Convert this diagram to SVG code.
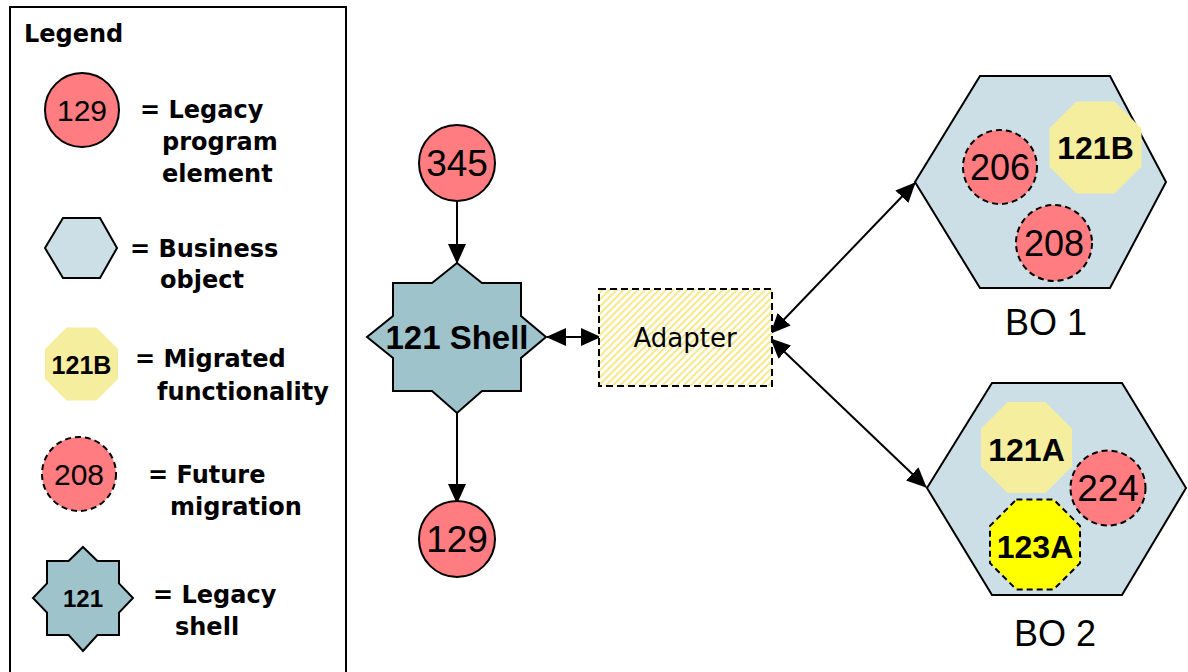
<svg xmlns="http://www.w3.org/2000/svg" width="1188" height="672" viewBox="0 0 1188 672">
<style>
.circ{fill:#ff7c80;stroke:#000;stroke-width:2}
.dash{stroke-dasharray:6 4}
.hex{fill:#cddfe6;stroke:#000;stroke-width:2}
.star{fill:#9fc3cb;stroke:#000;stroke-width:2}
.oct{fill:#f6ee9f}
.num{font-family:"Liberation Sans",Arial,sans-serif;text-anchor:middle;fill:#000}
.bnum{font-family:"Liberation Sans",Arial,sans-serif;font-weight:bold;text-anchor:middle;fill:#000}
.leg{font-family:"DejaVu Sans",Verdana,sans-serif;font-weight:bold;font-size:24px;fill:#000}
.conn{stroke:#000;stroke-width:2;fill:none}
</style>
<defs>
<marker id="ah" viewBox="0 0 20 18" refX="19" refY="9" markerWidth="20" markerHeight="18" orient="auto-start-reverse" markerUnits="userSpaceOnUse">
<path d="M0,0 L20,9 L0,18 z" fill="#000"/>
</marker>
<pattern id="hatch" patternUnits="userSpaceOnUse" width="5" height="5" patternTransform="rotate(45)">
<rect width="5" height="5" fill="#fff"/>
<rect width="2" height="5" fill="#f7e88a"/>
</pattern>
</defs>
<rect width="1188" height="672" fill="#fff"/>

<g id="legend">
<rect x="10" y="7" width="336" height="680" fill="none" stroke="#000" stroke-width="2"/>
<text x="24" y="42" class="leg" font-size="25">Legend</text>
<g id="leg-legacy">
<circle cx="82" cy="110" r="37" class="circ"/>
<text x="82" y="121" class="num" font-size="30">129</text>
<text x="140" y="118" class="leg">= Legacy</text>
<text x="162" y="150" class="leg">program</text>
<text x="162" y="182" class="leg">element</text>
</g>
<g id="leg-bo">
<polygon points="45,248 63,218 100,218 117,248 100,278 63,278" class="hex"/>
<text x="130" y="257" class="leg">= Business</text>
<text x="160" y="288" class="leg">object</text>
</g>
<g id="leg-migrated">
<polygon points="66.5,327.5 96.5,327.5 118,349 118,379 96.5,400.5 66.5,400.5 45,379 45,349" class="oct"/>
<text x="81.5" y="374" class="bnum" font-size="25">121B</text>
<text x="135" y="367" class="leg">= Migrated</text>
<text x="157" y="400" class="leg">functionality</text>
</g>
<g id="leg-future">
<circle cx="79" cy="474" r="37" class="circ dash"/>
<text x="79" y="485" class="num" font-size="30">208</text>
<text x="148" y="483" class="leg">= Future</text>
<text x="170" y="515" class="leg">migration</text>
</g>
<g id="leg-shell">
<polygon points="83,547 97.4,561 119,561 119,583.4 133,598 119,612.6 119,635 97.4,635 83,651 68.6,635 47,635 47,612.6 33,598 47,583.4 47,561 68.6,561" class="star"/>
<text x="83" y="607" class="bnum" font-size="24">121</text>
<text x="153" y="603" class="leg">= Legacy</text>
<text x="175" y="635" class="leg">shell</text>
</g>
</g>

<g id="connectors">
<line x1="457" y1="201" x2="457" y2="263" class="conn" marker-end="url(#ah)"/>
<line x1="457" y1="413" x2="457" y2="503" class="conn" marker-end="url(#ah)"/>
<line x1="547" y1="337" x2="600" y2="337" class="conn" marker-start="url(#ah)" marker-end="url(#ah)"/>
<line x1="771" y1="333" x2="915" y2="183" class="conn" marker-start="url(#ah)" marker-end="url(#ah)"/>
<line x1="771" y1="339" x2="926" y2="487" class="conn" marker-start="url(#ah)" marker-end="url(#ah)"/>
</g>

<g id="n345">
<circle cx="457" cy="163" r="38" class="circ"/>
<text x="457" y="176" class="num" font-size="37">345</text>
</g>
<g id="shell121">
<polygon points="457,263 482,283 521,283 521,316 546,337 521,358 521,391 482,391 457,413 432,391 393,391 393,358 367,337 393,316 393,283 432,283" class="star"/>
<text x="457" y="349" class="bnum" font-size="33">121 Shell</text>
</g>
<g id="n129">
<circle cx="457" cy="539" r="38" class="circ"/>
<text x="457" y="552" class="num" font-size="37">129</text>
</g>
<g id="adapter">
<rect x="599" y="289" width="173" height="97" fill="url(#hatch)" stroke="#000" stroke-width="2" stroke-dasharray="7 4"/>
<text x="685" y="347" font-family="DejaVu Sans,Verdana,sans-serif" font-size="26" text-anchor="middle" fill="#000">Adapter</text>
</g>
<g id="bo1">
<polygon points="980,76 1110,76 1166,182 1110,288 980,288 915,182" class="hex"/>
<circle cx="1000" cy="167" r="37" class="circ dash"/>
<text x="1000" y="180" class="num" font-size="36">206</text>
<polygon points="1076.5,101.5 1114.5,101.5 1141.5,128.5 1141.5,166.5 1114.5,193.5 1076.5,193.5 1049.5,166.5 1049.5,128.5" class="oct"/>
<text x="1095.5" y="159" class="bnum" font-size="32">121B</text>
<circle cx="1054" cy="243" r="38" class="circ dash"/>
<text x="1054" y="256" class="num" font-size="36">208</text>
<text x="1046" y="335" class="num" font-size="36">BO 1</text>
</g>
<g id="bo2">
<polygon points="992,383 1122,383 1186,488 1122,595 992,595 927,488" class="hex"/>
<polygon points="1007.7,402 1045.3,402 1072,428.7 1072,466.3 1045.3,493 1007.7,493 981,466.3 981,428.7" class="oct"/>
<text x="1026.5" y="461" class="bnum" font-size="32">121A</text>
<circle cx="1108" cy="488" r="37.5" class="circ dash"/>
<text x="1108" y="501" class="num" font-size="37">224</text>
<polygon points="1016.4,499.5 1053.6,499.5 1080,525.9 1080,563.1 1053.6,589.5 1016.4,589.5 990,563.1 990,525.9" fill="#ffff00" stroke="#000" stroke-width="2" stroke-dasharray="6 4"/>
<text x="1035" y="558" class="bnum" font-size="32">123A</text>
<text x="1055" y="646" class="num" font-size="36">BO 2</text>
</g>
</svg>
